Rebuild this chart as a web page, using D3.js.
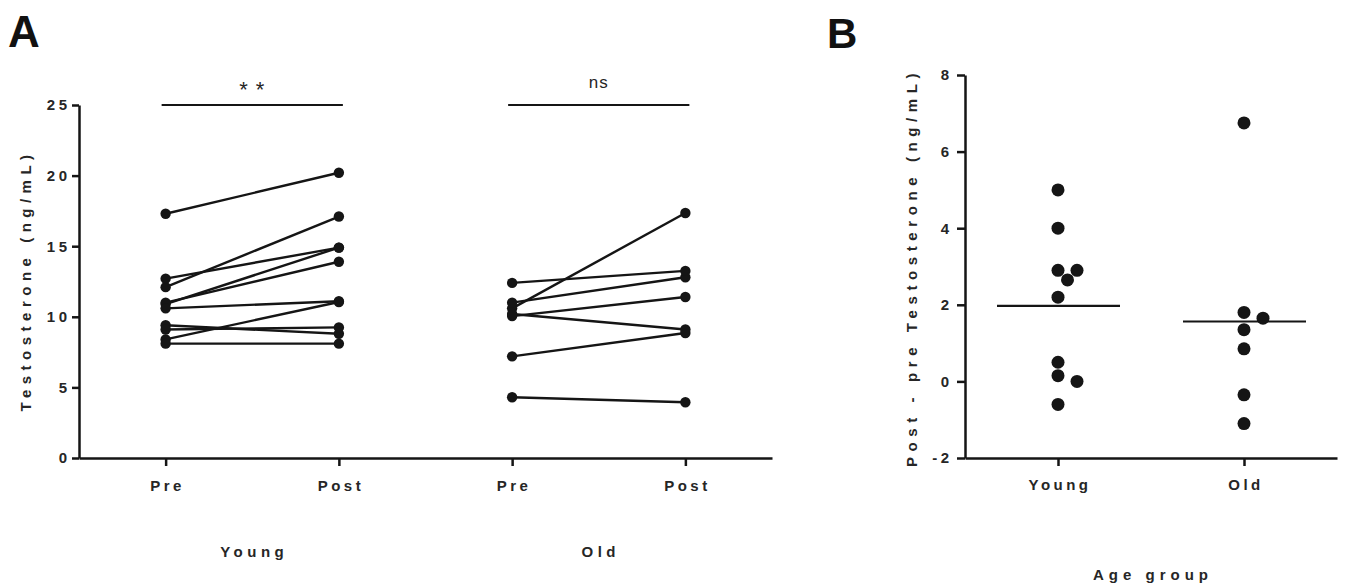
<!DOCTYPE html>
<html>
<head>
<meta charset="utf-8">
<script src="https://cdn.jsdelivr.net/npm/d3@7"></script>
<style>
  body { margin: 0; background: #fff; }
  svg { display: block; font-family: "Liberation Sans", Arial, sans-serif; }
  .axis path, .axis line { stroke: #151515; stroke-width: 2.5px; }
  .axis text { fill: #262626; font-size: 15px; font-weight: bold; letter-spacing: 3.5px; }
  .lbl { fill: #262626; font-size: 15px; font-weight: bold; letter-spacing: 4px; }
</style>
</head>
<body>
<div id="chart"></div>
<script>
// data
var groups = ["Young", "Old"];
var timepoints = ["Pre", "Post"];
var youngPre  = [17.3, 12.1, 12.7, 10.9, 11.0, 10.6, 8.4, 9.4, 9.1, 8.1];
var youngPost = [20.2, 17.1, 14.9, 14.9, 13.9, 11.1, 11.05, 8.8, 9.25, 8.1];
var oldPre  = [10.6, 11.0, 7.2, 10.05, 12.4, 4.3, 10.2];
var oldPost = [17.35, 12.8, 8.85, 11.4, 13.25, 3.95, 9.1];
var sigLabels = ["* *", "ns"];
var yTicksA = [0, 5, 10, 15, 20, 25];
var yTicksB = [-2, 0, 2, 4, 6, 8];

var svg = d3.select("#chart")
  .append("svg")
  .attr("width", 1360)
  .attr("height", 587);

svg.append("rect").attr("width", 1360).attr("height", 587).attr("fill", "#fff");

// plain hyphen for negatives, like the original
var fmt = function(d) { return String(d); };

// ---------- Panel A ----------
var catsA = [];
groups.forEach(function(g) {
  timepoints.forEach(function(t) { catsA.push(g + "-" + t); });
});

var xA = d3.scalePoint().domain(catsA).range([79, 772]).padding(0.5);
var yA = d3.scaleLinear().domain([0, 25]).range([458, 105]);

var pairs = [
  { group: "Young", pre: youngPre, post: youngPost },
  { group: "Old", pre: oldPre, post: oldPost }
];

svg.append("g")
  .attr("class", "axis")
  .attr("transform", "translate(79,0)")
  .call(d3.axisLeft(yA).tickValues(yTicksA).tickFormat(fmt).tickSize(7).tickPadding(1.5).tickSizeOuter(0));

svg.append("g")
  .attr("class", "axis xa")
  .attr("transform", "translate(0,458)")
  .call(d3.axisBottom(xA).tickSize(8).tickPadding(14).tickSizeOuter(0)
    .tickFormat(function(d) { return d.split("-")[1]; }));

svg.selectAll(".xa text").attr("dx", 1.5);

// paired lines
pairs.forEach(function(p) {
  var g = svg.append("g");
  var x0 = xA(p.group + "-Pre"), x1 = xA(p.group + "-Post");
  p.pre.forEach(function(v, i) {
    g.append("line")
      .attr("x1", x0).attr("y1", yA(v))
      .attr("x2", x1).attr("y2", yA(p.post[i]))
      .attr("stroke", "#151515")
      .attr("stroke-width", 2.4);
  });
  g.selectAll("circle.pre")
    .data(p.pre).enter().append("circle")
    .attr("cx", x0).attr("cy", function(d) { return yA(d); })
    .attr("r", 5.2).attr("fill", "#151515");
  g.selectAll("circle.post")
    .data(p.post).enter().append("circle")
    .attr("cx", x1).attr("cy", function(d) { return yA(d); })
    .attr("r", 5.2).attr("fill", "#151515");
});

// significance bars
groups.forEach(function(gname, i) {
  var x0 = xA(gname + "-Pre") - 4, x1 = xA(gname + "-Post") + 4;
  svg.append("line")
    .attr("x1", x0).attr("x2", x1)
    .attr("y1", yA(25)).attr("y2", yA(25))
    .attr("stroke", "#151515").attr("stroke-width", 2.2);
  svg.append("text")
    .attr("x", (x0 + x1) / 2)
    .attr("y", i === 0 ? 97 : 88)
    .attr("text-anchor", "middle")
    .attr("font-size", i === 0 ? 22 : 17)
    .attr("fill", "#262626")
    .style("letter-spacing", "1px")
    .text(sigLabels[i]);
  // group label below
  svg.append("text")
    .attr("class", "lbl")
    .attr("x", (x0 + x1) / 2 + 2)
    .attr("y", 557)
    .attr("text-anchor", "middle")
    .style("letter-spacing", "4.5px")
    .text(gname);
});

svg.append("text")
  .attr("class", "lbl")
  .attr("transform", "translate(31," + ((105 + 458) / 2 - 1) + ") rotate(-90)")
  .attr("text-anchor", "middle")
  .style("letter-spacing", "5.5px")
  .text("Testosterone (ng/mL)");

svg.append("text")
  .attr("x", 8).attr("y", 47)
  .attr("font-size", 44).attr("font-weight", "bold")
  .attr("fill", "#111")
  .text("A");

// ---------- Panel B ----------
var xB = d3.scalePoint().domain(groups).range([965, 1337]).padding(0.5);
var yB = d3.scaleLinear().domain([-2, 8]).range([458, 75]);

svg.append("g")
  .attr("class", "axis")
  .attr("transform", "translate(965,0)")
  .call(d3.axisLeft(yB).tickValues(yTicksB).tickFormat(fmt).tickSize(8).tickPadding(4.5).tickSizeOuter(0));

svg.append("g")
  .attr("class", "axis xb")
  .attr("transform", "translate(0,458)")
  .call(d3.axisBottom(xB).tickSize(8).tickPadding(13).tickSizeOuter(0));

svg.selectAll(".xb text").attr("dx", 1.5);

// simple beeswarm so overlapping dots spread sideways
function swarm(values, cx, r, step) {
  var placed = [];
  var order = values.map(function(v, i) { return i; })
    .sort(function(a, b) { return values[b] - values[a]; });
  order.forEach(function(i) {
    var cy = yB(values[i]);
    for (var k = 0; k < 20; k++) {
      var off = k === 0 ? 0 : (k % 2 ? 1 : -1) * Math.ceil(k / 2) * step;
      var ok = placed.every(function(p) {
        return Math.hypot(p.x - (cx + off), p.y - cy) >= 2 * r - 0.2;
      });
      if (ok) { placed.push({ x: cx + off, y: cy, v: values[i] }); break; }
    }
  });
  return placed;
}

pairs.forEach(function(p) {
  var diffs = p.post.map(function(v, i) { return v - p.pre[i]; });
  var cx = xB(p.group);
  var pts = swarm(diffs, cx, 6.5, 9.5);
  svg.append("g").selectAll("circle")
    .data(pts).enter().append("circle")
    .attr("cx", function(d) { return d.x; })
    .attr("cy", function(d) { return d.y; })
    .attr("r", 6.5)
    .attr("fill", "#151515");
  var m = d3.mean(diffs);
  svg.append("line")
    .attr("x1", cx - 61).attr("x2", cx + 62)
    .attr("y1", yB(m)).attr("y2", yB(m))
    .attr("stroke", "#151515").attr("stroke-width", 2.2);
});

svg.append("text")
  .attr("class", "lbl")
  .attr("transform", "translate(917," + ((75 + 458) / 2 + 1) + ") rotate(-90)")
  .attr("text-anchor", "middle")
  .style("letter-spacing", "5.6px")
  .text("Post - pre Testosterone (ng/mL)");

svg.append("text")
  .attr("class", "lbl")
  .attr("x", (965 + 1337) / 2 + 2)
  .attr("y", 580)
  .attr("text-anchor", "middle")
  .style("letter-spacing", "5px")
  .text("Age group");

svg.append("text")
  .attr("x", 827).attr("y", 48)
  .attr("font-size", 42).attr("font-weight", "bold")
  .attr("fill", "#111")
  .text("B");
</script>
</body>
</html>
